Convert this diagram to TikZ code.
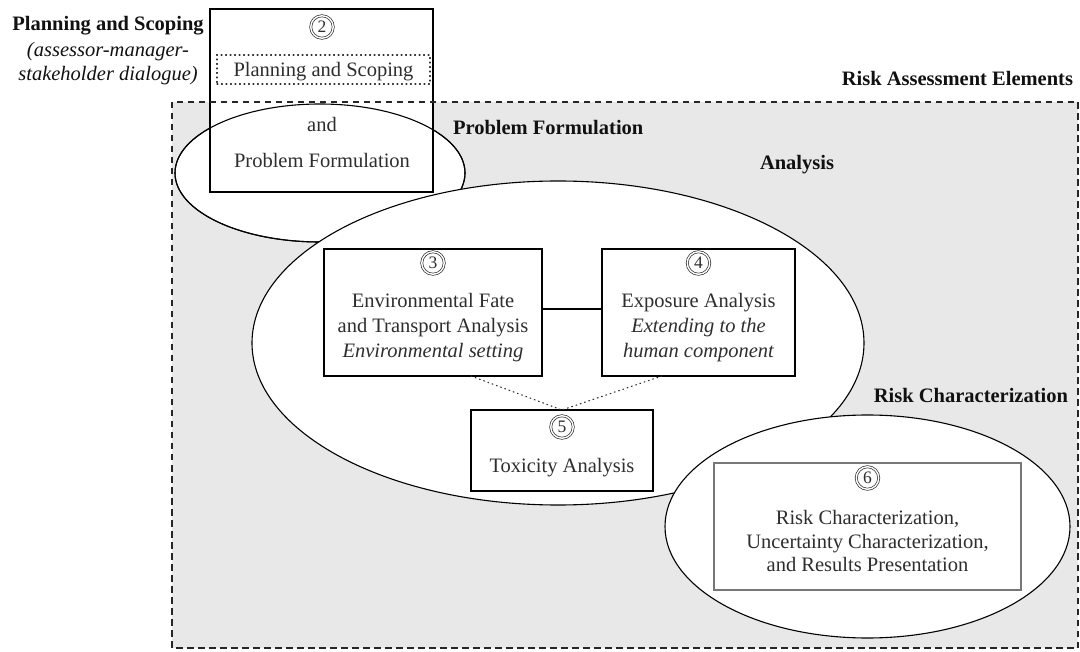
\documentclass[tikz,border=0pt]{standalone}
\usepackage{fontspec}
\setmainfont{Liberation Serif}
\usetikzlibrary{shapes.geometric}
\definecolor{bggray}{HTML}{E8E8E8}
\definecolor{txt}{HTML}{2E2E2E}
\definecolor{lbl}{HTML}{111111}
\definecolor{box6}{HTML}{777777}
\begin{document}
\begin{tikzpicture}[x=1pt,y=-1pt,
  every node/.style={inner sep=0pt,outer sep=0pt},
  boxtext/.style={font=\fontsize{20.5}{25}\selectfont,text=txt,anchor=base},
  boxit/.style={boxtext,font=\fontsize{20.5}{25}\selectfont\itshape},
  label/.style={font=\fontsize{20.5}{25}\selectfont\bfseries,text=lbl},
  labelit/.style={font=\fontsize{20.5}{25}\selectfont\itshape,text=lbl,anchor=base},
  stepbox/.style={draw=black,line width=1.2pt,fill=white,rectangle},
  oval/.style={ellipse,draw=black,line width=1.1pt,fill=white},
  num/.style={circle,draw=txt,double,double distance=1.4pt,line width=0.7pt,minimum size=22.5pt,
     font=\fontsize{17.5}{17.5}\selectfont,text=txt},
  dotline/.style={line width=1.1pt,dash pattern=on 0.9pt off 3.6pt,line cap=round,draw=txt}
]
\useasboundingbox (0,0) rectangle (1080,652);

% background region
\fill[bggray] (172,102) rectangle (1078,648);

% Problem formulation ellipse and box 2
\node[oval,minimum width=290pt,minimum height=138pt] (pf) at (320,173) {};
\node[stepbox,minimum width=223pt,minimum height=183pt] (b2) at (321.5,100.5) {};
\node[ellipse,draw=black,line width=1.1pt,minimum width=290pt,minimum height=138pt] (pfo) at (320,173) {};
\node[draw=txt,line width=1.1pt,dash pattern=on 0.9pt off 3.6pt,line cap=round,
      minimum width=213pt,minimum height=29pt] (ps) at (323.5,69.5) {};
\node[num] (n2) at (322,27) {2};
\node[boxtext] (pstext) at (323.5,77) {Planning and Scoping};
\node[boxtext] (and) at (322,132) {and};
\node[boxtext] (pftext) at (322,168) {Problem Formulation};

% Analysis ellipse
\node[oval,minimum width=612pt,minimum height=324pt] (an) at (558,343) {};

% boxes 3,4,5
\node[stepbox,minimum width=218pt,minimum height=127pt] (b3) at (433,312.5) {};
\node[stepbox,minimum width=193pt,minimum height=127pt] (b4) at (698.5,312.5) {};
\node[stepbox,minimum width=182pt,minimum height=81pt] (b5) at (562,450.5) {};

\node[num] (n3) at (433,263) {3};
\node[boxtext] (t3a) at (433,308) {Environmental Fate};
\node[boxtext] (t3b) at (433,333) {and Transport Analysis};
\node[boxit] (t3c) at (433,358) {Environmental setting};

\node[num] (n4) at (698.5,263) {4};
\node[boxtext] (t4a) at (698.5,308) {Exposure Analysis};
\node[boxit] (t4b) at (698.5,333) {Extending to the};
\node[boxit] (t4c) at (698.5,358) {human component};

\node[num] (n5) at (562,427) {5};
\node[boxtext] (t5a) at (562,472) {Toxicity Analysis};

\draw[line width=1.2pt] ([yshift=3.5pt]b3.east) -- ([yshift=3.5pt]b4.west);
\draw[dotline] ([xshift=147pt]b3.south west) -- (b5.north);
\draw[dotline] ([xshift=60pt]b4.south west) -- (b5.north);

% Risk characterization ellipse
\node[oval,minimum width=405pt,minimum height=223pt] (rc) at (867.5,526.5) {};
\node[draw=box6,line width=1.2pt,rectangle,minimum width=307pt,minimum height=127pt] (b6) at (867.5,526.5) {};
\node[num] (n6) at (867.5,478) {6};
\node[boxtext,font=\fontsize{20.5}{23}\selectfont] (t6a) at (867.5,524) {Risk Characterization,};
\node[boxtext,font=\fontsize{20.5}{23}\selectfont] (t6b) at (867.5,548) {Uncertainty Characterization,};
\node[boxtext,font=\fontsize{20.5}{23}\selectfont] (t6c) at (867.5,571) {and Results Presentation};

% dashed outline
\draw[line width=1.2pt,dash pattern=on 6.5pt off 4.5pt,draw=black!85] (172,102) rectangle (1078,648);

% labels
\node[label,anchor=base] (lps) at (108,31) {Planning and Scoping};
\node[labelit] (lps2) at (108,57) {(assessor-manager-};
\node[labelit] (lps3) at (108,81) {stakeholder dialogue)};
\node[label,anchor=base east] (lrae) at (1073,86) {Risk Assessment Elements};
\node[label,anchor=base west] (lpf) at (453,135) {Problem Formulation};
\node[label,anchor=base west] (lan) at (760,170) {Analysis};
\node[label,anchor=base east] (lrc) at (1068,403) {Risk Characterization};
\end{tikzpicture}
\end{document}
